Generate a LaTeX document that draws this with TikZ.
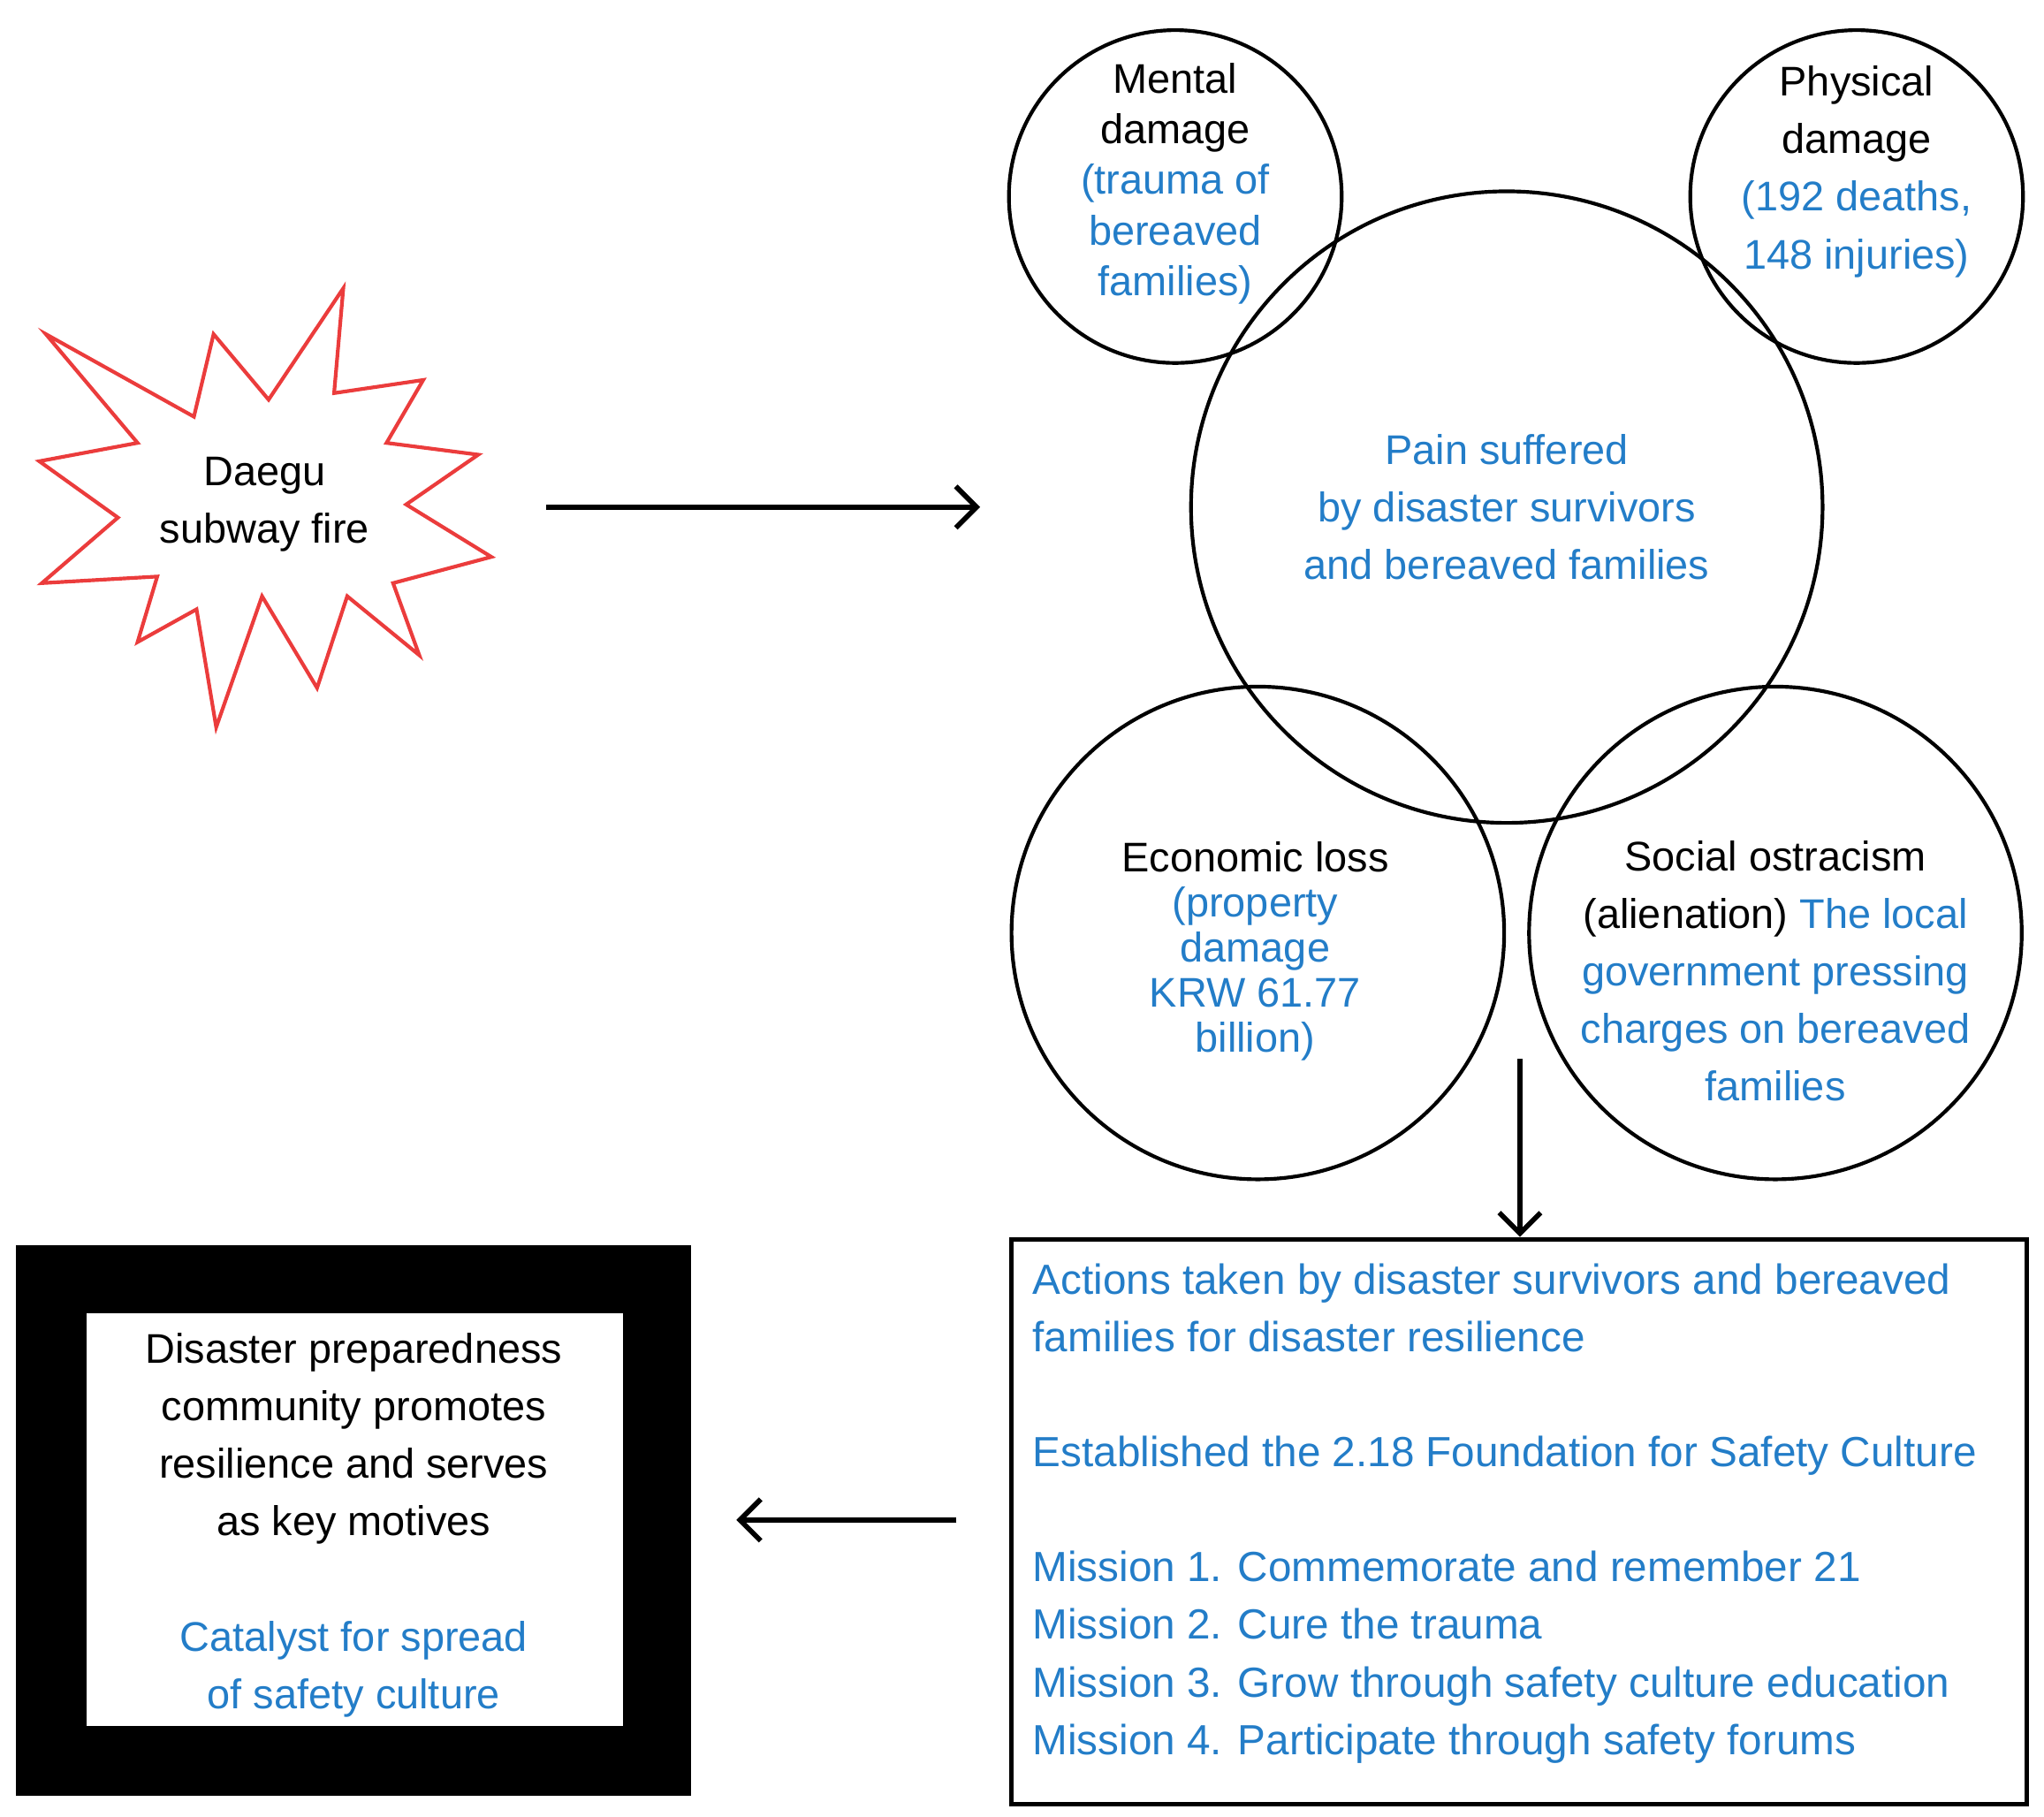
\documentclass[tikz,border=0pt]{standalone}
\usepackage{fontspec}
\usetikzlibrary{arrows.meta}
\setmainfont{Liberation Sans}
\definecolor{bl}{RGB}{35,125,200}
\definecolor{rd}{RGB}{235,60,60}
\begin{document}
\begin{tikzpicture}[x=0.02cm,y=-0.02cm,
  circ/.style={draw,line width=1.6pt,circle,inner sep=0pt},
  txt/.style={align=center,font=\fontsize{18}{25}\selectfont},
  arr/.style={line width=2.2pt,-{Straight Barb[length=9pt,width=18pt]}}]
\useasboundingbox (0,0) rectangle (1560,1386);
% star
\draw[rd,line width=1.6pt] (262,220)--(255,300)--(323,290)--(295,338)--(365,347)--(310,385)--(375,425)--(300,445)--(320,500)--(265,455)--(242,525)--(200,455)--(165,555)--(150,465)--(105,490)--(120,440)--(32,445)--(90,395)--(30,352)--(105,338)--(35,255)--(148,318)--(163,255)--(205,305)--cycle;
\node[txt] (fire) at (202,385) {Daegu\\subway fire};
\coordinate (a1) at (417,387); \coordinate (a2) at (748,387);
\draw[arr] (a1)--(a2);
% circles
\node[circ,minimum size=482*0.02cm] (pain) at (1150,387) {};
\node[circ,minimum size=254*0.02cm] (ment) at (897,150) {};
\node[circ,minimum size=254*0.02cm] (phys) at (1417,150) {};
\node[circ,minimum size=376*0.02cm] (econ) at (960,712) {};
\node[circ,minimum size=376*0.02cm] (soc) at (1355,712) {};
\node[txt,text=bl] at (1150,387) {Pain suffered\\by disaster survivors\\and bereaved families};
\node[txt,font=\fontsize{18}{22}\selectfont] at (897,140) {Mental\\damage\\\textcolor{bl}{(trauma of}\\\textcolor{bl}{bereaved}\\\textcolor{bl}{families)}};
\node[txt] at (1417,131) {Physical\\damage\\\textcolor{bl}{(192 deaths,}\\\textcolor{bl}{148 injuries)}};
\node[txt,font=\fontsize{18}{19.5}\selectfont] at (958,726) {Economic loss\\\textcolor{bl}{(property}\\\textcolor{bl}{damage}\\\textcolor{bl}{KRW 61.77}\\\textcolor{bl}{billion)}};
\node[txt] at (1355,741) {Social ostracism\\(alienation) \textcolor{bl}{The local}\\\textcolor{bl}{government pressing}\\\textcolor{bl}{charges on bereaved}\\\textcolor{bl}{families}};
\coordinate (d1) at (1160,808);
% box
\node[draw,line width=2pt,minimum width=775*0.02cm,minimum height=431*0.02cm,anchor=north west] (box) at (770,944) {};
\draw[arr] (d1)--(box.north -| d1);
\node[anchor=north west,align=left,text=bl,font=\fontsize{18.3}{25}\selectfont] at (782,958) {Actions taken by disaster survivors and bereaved\\families for disaster resilience\\[25pt]Established the 2.18 Foundation for Safety Culture\\[25pt]Mission 1. Commemorate and remember 21\\Mission 2. Cure the trauma\\Mission 3. Grow through safety culture education\\Mission 4. Participate through safety forums};
% frame
\node[fill=black,minimum width=515*0.02cm,minimum height=420*0.02cm,anchor=north west,inner sep=0] (frame) at (12,950) {};
\node[fill=white,minimum width=409*0.02cm,minimum height=315*0.02cm,anchor=north west,inner sep=0] (inner) at (66,1002) {};
\node[txt] at (270,1164) {Disaster preparedness\\community promotes\\resilience and serves\\as key motives\\[25pt]\textcolor{bl}{Catalyst for spread}\\\textcolor{bl}{of safety culture}};
\coordinate (l1) at (730,1160); \coordinate (l2) at (562,1160);
\draw[arr] (l1)--(l2);
\end{tikzpicture}
\end{document}
